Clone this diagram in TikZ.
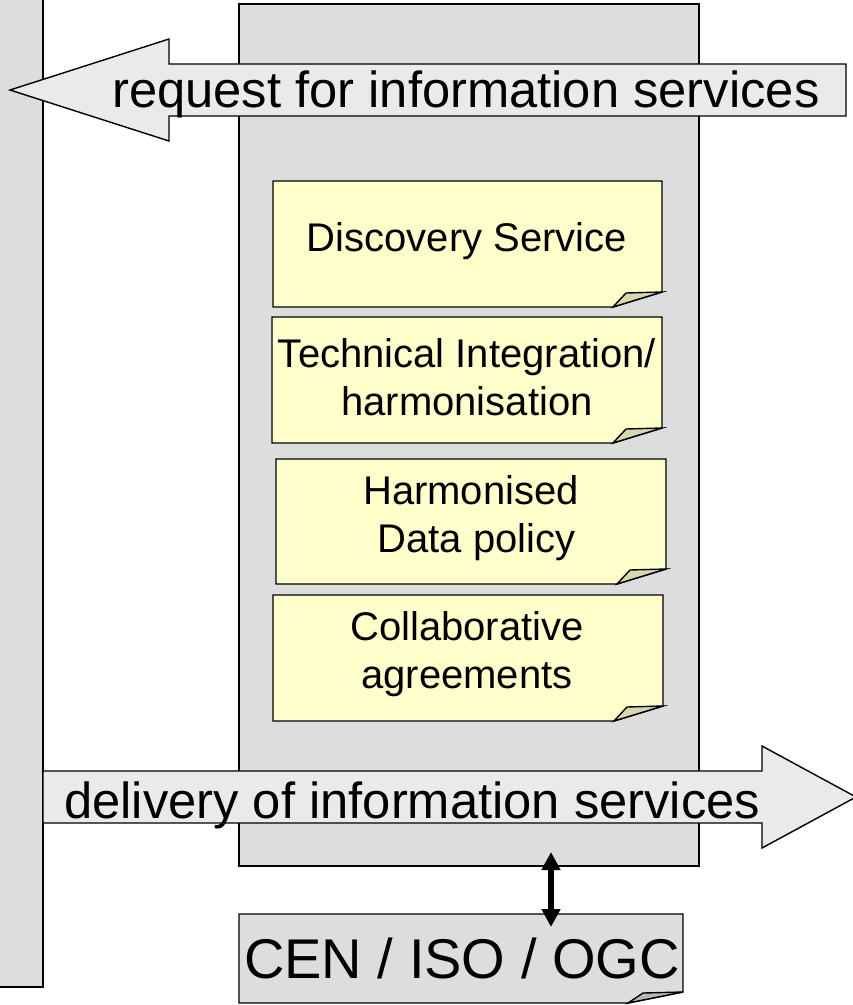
\documentclass[tikz,border=0pt]{standalone}
\usepackage{fontspec}
\setmainfont{Liberation Sans}
\usetikzlibrary{arrows.meta}
\definecolor{boxgray}{HTML}{DDDDDD}
\definecolor{arrowgray}{HTML}{EAEAEA}
\definecolor{noteyellow}{HTML}{FFFFCC}
\definecolor{foldyellow}{HTML}{D8D8B0}
\definecolor{foldgray}{HTML}{B8B8B8}
\newcommand{\stickynote}[7]{%
  % #1 name, #2 left, #3 top, #4 right, #5 bottom, #6 fill, #7 fold fill
  \path[outline,fill=#6] (#2,#3) -- (#4,#3) -- (#4,#5-15) -- (#4-49,#5) -- (#2,#5) -- cycle;
  \path[outline,fill=#7] (#4-49,#5) -- (#4-36,#5-14) -- (#4,#5-15) -- cycle;
  \coordinate (#1) at ({(#2+#4)/2},{(#3+#5)/2});
}
\begin{document}
\begin{tikzpicture}[x=1pt,y=-1pt,
  outline/.style={draw=black,line width=1.4pt,line join=miter},
  bigtext/.style={inner sep=0pt,font=\fontsize{50.7}{60}\selectfont},
  notetext/.style={inner sep=0pt,align=center,font=\fontsize{40}{48}\selectfont},
  centext/.style={inner sep=0pt,font=\fontsize{56}{66}\selectfont},
  dblarrow/.style={line width=5.5pt,{Triangle[length=18pt,width=18pt]}-{Triangle[length=18pt,width=18pt]}}]
\useasboundingbox (0,0) rectangle (853,1005);
% left bar
\path[outline,fill=boxgray] (-5,-5) rectangle (43,987);
% central column
\path[outline,fill=boxgray] (239,4) rectangle (699,866);
% request arrow (pointing left)
\path[outline,fill=arrowgray] (846,64) -- (169,64) -- (169,39) -- (10,90) -- (169,141) -- (169,116) -- (846,116) -- cycle;
\node[bigtext,anchor=base west] (req) at (112,107) {request for information services};
% notes
\stickynote{n1}{273}{181}{662}{307}{noteyellow}{foldyellow}
\node[notetext] (disc) at (467,241) {Discovery Service};
\stickynote{n2}{272}{317}{662}{443}{noteyellow}{foldyellow}
\node[notetext] (tech) at (467,377) {Technical Integration/\\harmonisation};
\stickynote{n3}{276}{459}{666}{584}{noteyellow}{foldyellow}
\node[notetext] (harm) at (471,518) {Harmonised\\ \ Data policy};
\stickynote{n4}{273}{595}{663}{721}{noteyellow}{foldyellow}
\node[notetext] (coll) at (467,654) {Collaborative\\agreements};
% delivery arrow (pointing right)
\path[outline,fill=arrowgray] (43,771) -- (762,771) -- (762,746) -- (856,797) -- (762,848) -- (762,823) -- (43,823) -- cycle;
\node[bigtext,anchor=base west] (del) at (64,818) {delivery of information services};
% CEN box
\path[outline,fill=boxgray] (239,914) -- (683,914) -- (683,992) -- (628,1003) -- (239,1003) -- cycle;
\path[outline,fill=foldgray] (628,1003) -- (643,993) -- (683,992) -- cycle;
\node[centext] (cen) at (462,958) {CEN / ISO / OGC};
% double arrow
\coordinate (atop) at (551,852);
\coordinate (abot) at (551,927);
\draw[dblarrow] (atop) -- (abot);
\end{tikzpicture}
\end{document}
